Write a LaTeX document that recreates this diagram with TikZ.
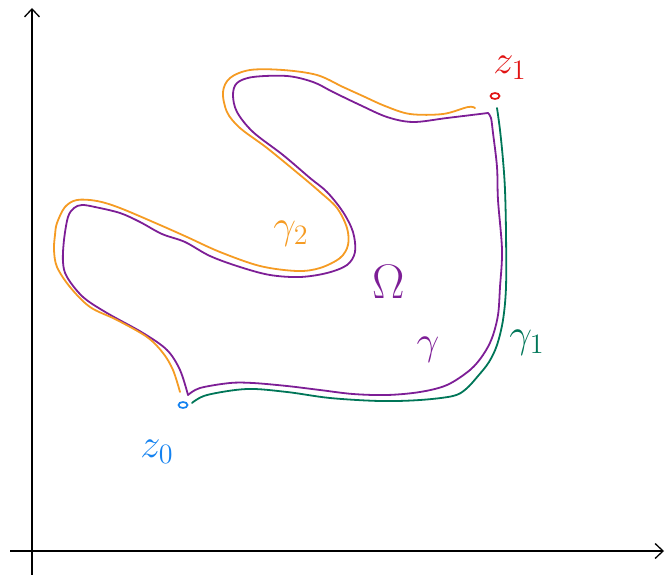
\documentclass[tikz,border=0pt]{standalone}
\usepackage{amsmath}
\usetikzlibrary{arrows}
\usetikzlibrary{arrows.meta}
\usetikzlibrary{shapes}
\definecolor{gpurple}{RGB}{125,30,150}
\definecolor{gorange}{RGB}{245,155,35}
\definecolor{ggreen}{RGB}{0,118,88}
\definecolor{zred}{RGB}{225,20,20}
\definecolor{zblue}{RGB}{20,130,240}
\tikzstyle{axis}  = [
    draw,
    -{Straight Barb[length=8pt, width=15pt]},
    line width=1.3pt
]
\tikzstyle{curve} = [
    line width=1.8pt,
    line cap=round,
    line join=round
]
\tikzstyle{endpt} = [
    shape=ellipse,
    draw,
    line width=1.7pt,
    inner sep=0pt,
    minimum width=9pt,
    minimum height=6pt
]
\tikzstyle{lbl}   = [
    font=\huge,
    scale=1.95,
    inner sep=0pt
]

\begin{document}
\begin{tikzpicture}[x=1pt, y=-1pt]
\useasboundingbox (0,0) rectangle (666,575);

\coordinate (origin) at (32,551);
\coordinate (ytop)   at (32,8);
\coordinate (ybot)   at (32,575);
\coordinate (xleft)  at (10,551);
\coordinate (xright) at (664,551);
\draw[axis] (ybot) -- (ytop);
\draw[axis] (xleft) -- (xright);

\node[endpt, draw=zblue] (z0) at (183,405) {};
\node[endpt, draw=zred]  (z1) at (495,96)  {};

\draw[curve, gpurple] plot[smooth, tension=0.55] coordinates {
  (188,395) (180,370) (167,350) (143,333) (107,313) (83,297) (67,277)
  (63,262) (64,240) (68,217) (74,208) (82,205) (95,207) (120,213)
  (140,222) (162,234) (185,242) (210,256) (240,267)
  (270,275) (300,277) (327,273) (347,265) (355,252) (353,232) (343,212)
  (327,192) (310,178) (283,155) (253,132) (237,112) (233,95) (237,83)
  (253,77) (287,76) (313,82) (333,92) (360,105) (387,117) (413,122)
  (447,118) (488,113)};
\draw[curve, gpurple] plot[smooth, tension=0.55] coordinates {
  (488,113) (491,118) (493,133) (497,167) (498,200) (502,250) (500,287)
  (498,315) (492,338) (483,355) (470,370) (447,385) (420,392) (387,395)
  (353,394) (320,390) (287,386) (253,383) (230,383) (200,388) (188,395)};

\draw[curve, gorange] plot[smooth, tension=0.55] coordinates {
  (180,392) (173,370) (163,353) (147,337) (117,320) (90,307) (70,287)
  (57,267) (54,250) (55,235) (57,223) (65,207) (77,200) (97,201)
  (120,208) (160,225) (187,237) (220,252) (260,266) (297,271) (320,268)
  (340,258) (348,245) (347,228) (337,208) (320,192) (300,175) (267,148)
  (240,128) (227,112) (223,92) (230,78) (250,70) (283,70) (317,75)
  (343,87) (365,97) (385,106) (410,114) (443,114) (468,107) (475,108)};

\draw[curve, ggreen] plot[smooth, tension=0.55] coordinates {
  (497,108) (500,130) (503,160) (505,190) (506,233) (506,287) (503,320)
  (497,345) (489,362) (478,376) (466,389) (453,396) (420,400) (380,401)
  (330,398) (287,392) (247,389) (207,395) (192,403)};

\node[lbl, text=zred]    (lz1)    at (510,68)  {$z_1$};
\node[lbl, text=zblue]   (lz0)    at (157,452) {$z_0$};
\node[lbl, text=gorange] (lgam2)  at (291,234) {$\gamma_2$};
\node[lbl, text=gpurple, scale=1.2] (lomega) at (389,282) {$\Omega$};
\node[lbl, text=gpurple] (lgam)   at (428,350) {$\gamma$};
\node[lbl, text=ggreen]  (lgam1)  at (527,343) {$\gamma_1$};

\end{tikzpicture}
\end{document}
